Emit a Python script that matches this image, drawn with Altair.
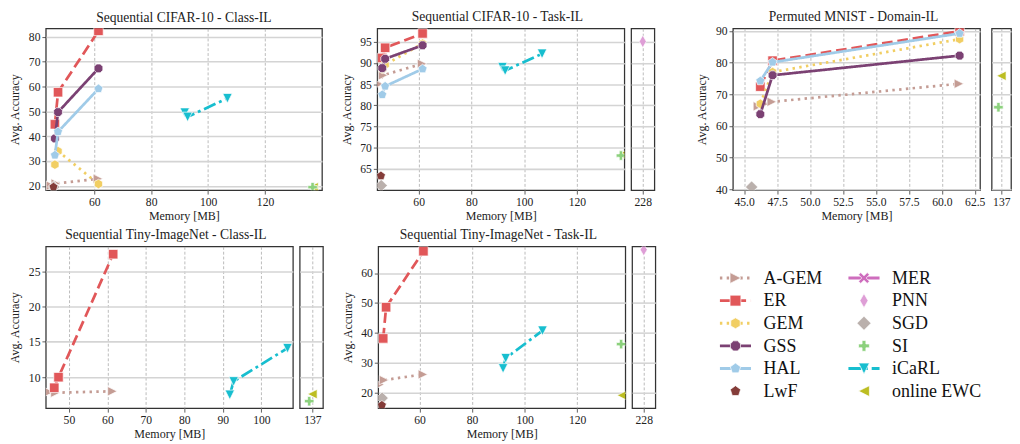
import altair as alt
import pandas as pd

FONT = "Liberation Serif"

METHODS = ["A-GEM", "ER", "GEM", "GSS", "HAL", "LwF",
           "MER", "PNN", "SGD", "SI", "iCaRL", "online EWC"]
COLORS = ["#c49c94", "#e15759", "#f1ce63", "#7b4173", "#a0cbe8", "#843c39",
          "#ce6dbd", "#de9ed6", "#bab0ac", "#8cd17d", "#17becf", "#bcbd22"]

TRI_R = "M1,0L-1,1L-1,-1Z"
TRI_L = "M-1,0L1,-1L1,1Z"
TRI_D = "M0,1L-1,-1L1,-1Z"
HEX = "M0,-1L0.866,-0.5L0.866,0.5L0,1L-0.866,0.5L-0.866,-0.5Z"
OCT = ("M0.383,-0.924L0.924,-0.383L0.924,0.383L0.383,0.924L-0.383,0.924"
       "L-0.924,0.383L-0.924,-0.383L-0.383,-0.924Z")
PENT = "M0,-1L0.951,-0.309L0.588,0.809L-0.588,0.809L-0.951,-0.309Z"
XMARK = ("M-1,-0.6L-0.6,-1L0,-0.4L0.6,-1L1,-0.6L0.4,0L1,0.6L0.6,1L0,0.4"
         "L-0.6,1L-1,0.6L-0.4,0Z")
THIN_D = "M0,-1.3L0.75,0L0,1.3L-0.75,0Z"
DIAM = "M0,-1.3L1.3,0L0,1.3L-1.3,0Z"
PLUS = ("M-0.35,-1L0.35,-1L0.35,-0.35L1,-0.35L1,0.35L0.35,0.35L0.35,1L-0.35,1"
        "L-0.35,0.35L-1,0.35L-1,-0.35L-0.35,-0.35Z")

SHAPES = [TRI_R, "square", HEX, OCT, PENT, PENT, XMARK, THIN_D, DIAM, PLUS, TRI_D, TRI_L]
DASHES = [[2.5, 4.5], [11, 5], [2.5, 4.5], [1, 0], [1, 0], [1, 0],
          [1, 0], [1, 0], [1, 0], [1, 0], [13, 4, 3, 4], [1, 0]]
HAS_LINE = [True, True, True, True, True, False, True, False, False, False, True, False]
DRAW_ORDER = ["A-GEM", "SGD", "LwF", "ER", "GEM", "GSS", "HAL", "MER", "PNN",
              "iCaRL", "online EWC", "SI"]

# memory footprints [MB]
MEM_REPLAY = [46.2, 47.3, 61.5]
MEM_AGEM = [44.8, 46.5, 61.3]
MEM_ICARL = [91.8, 92.8, 106.8]
MEM_MNIST_REPLAY = [46.23, 47.16, 61.35]
MEM_MNIST_AGEM = [46.05, 47.1, 61.3]
MEM_SGD = [45.8]
MEM_MNIST_SGD = [45.57]
MEM_LWF = [45.7]
MEM_SI = [136.7]
MEM_EWC = [137.0]
MEM_PNN = [228.0]

MEM_IMG = {"A-GEM": MEM_AGEM, "ER": MEM_REPLAY, "GEM": MEM_REPLAY, "GSS": MEM_REPLAY,
           "HAL": MEM_REPLAY, "LwF": MEM_LWF, "PNN": MEM_PNN, "SGD": MEM_SGD,
           "SI": MEM_SI, "iCaRL": MEM_ICARL, "online EWC": MEM_EWC}
MEM_MNIST = {"A-GEM": MEM_MNIST_AGEM, "ER": MEM_MNIST_REPLAY, "GEM": MEM_MNIST_REPLAY,
             "GSS": MEM_MNIST_REPLAY, "HAL": MEM_MNIST_REPLAY, "SGD": MEM_MNIST_SGD,
             "SI": MEM_SI, "online EWC": MEM_EWC}

# average accuracies
C10_CLASS = {"A-GEM": [20.1, 21.0, 22.9], "ER": [44.8, 57.7, 82.4], "GEM": [28.6, 34.0, 20.8],
             "GSS": [39.1, 49.7, 67.3], "HAL": [32.4, 41.8, 59.1], "LwF": [19.6],
             "SGD": [19.6], "SI": [19.5], "iCaRL": [49.5, 47.8, 55.3], "online EWC": [19.5]}
C10_TASK = {"A-GEM": [85.0, 87.1, 89.8], "ER": [91.2, 93.6, 97.0], "GEM": [88.6, 89.6, 94.6],
            "GSS": [88.8, 91.0, 94.2], "HAL": [82.5, 84.5, 88.6], "LwF": [63.3],
            "SGD": [61.0], "SI": [68.1], "iCaRL": [89.0, 88.2, 92.2], "online EWC": [68.3],
            "PNN": [95.1]}
MNIST_DOMAIN = {"A-GEM": [66.2, 67.6, 73.3], "ER": [72.4, 80.6, 89.9], "GEM": [67.0, 77.0, 87.4],
                "GSS": [63.7, 76.0, 82.2], "HAL": [74.2, 80.1, 89.2], "SGD": [40.7],
                "SI": [65.9], "online EWC": [75.8]}
TINY_CLASS = {"A-GEM": [7.9, 7.8, 8.0], "ER": [8.5, 10.0, 27.4], "SI": [6.6],
              "iCaRL": [7.5, 9.4, 14.1], "online EWC": [7.6]}
TINY_TASK = {"A-GEM": [22.8, 24.3, 26.2], "ER": [38.2, 48.6, 67.3], "LwF": [15.9],
             "SGD": [18.3], "SI": [36.3], "iCaRL": [28.2, 31.6, 40.8], "online EWC": [19.2],
             "PNN": [67.8]}

PH = 167
SIDE_W = 24
GAP = 17
NOFRAME = alt.ViewBackground(stroke="transparent")


def panel(acc, mem, xdom, ydom, xticks, yticks, width, main=True, xfmt="d"):
    if main:
        xax = alt.Axis(values=xticks, format=xfmt, title="Memory [MB]")
        yax = alt.Axis(values=yticks, title="Avg. Accuracy", minExtent=22, maxExtent=22)
    else:
        xax = alt.Axis(values=xticks, format=xfmt, title=None)
        yax = alt.Axis(values=yticks, title=None, labels=False, ticks=False,
                       minExtent=0, maxExtent=0)
    xe = alt.X("x:Q", scale=alt.Scale(domain=xdom, nice=False, zero=False), axis=xax)
    ye = alt.Y("y:Q", scale=alt.Scale(domain=ydom, nice=False, zero=False), axis=yax)
    layers = []
    for m in DRAW_ORDER:
        if m not in acc:
            continue
        i = METHODS.index(m)
        ys = acc[m]
        df = pd.DataFrame({"x": mem[m], "y": ys, "k": list(range(len(ys)))})
        if HAS_LINE[i] and len(ys) > 1:
            layers.append(alt.Chart(df).mark_line(
                color=COLORS[i], strokeWidth=2.8, strokeDash=DASHES[i], clip=True
            ).encode(x=xe, y=ye, order="k:Q"))
        layers.append(alt.Chart(df).mark_point(
            filled=True, shape=SHAPES[i], size=95, fill=COLORS[i], fillOpacity=1,
            stroke="white", strokeWidth=0.7, strokeOpacity=1, clip=True
        ).encode(x=xe, y=ye))
    return alt.layer(*layers).properties(width=width, height=PH)


p1 = panel(C10_CLASS, MEM_IMG, [43, 140], [18.3, 83.4], [60, 80, 100, 120],
           [20, 30, 40, 50, 60, 70, 80], 285).properties(title="Sequential CIFAR-10 - Class-IL")

C10T_Y = [59.9, 98.2]
C10T_YT = [65, 70, 75, 80, 85, 90, 95]
p2 = alt.hconcat(
    panel(C10_TASK, MEM_IMG, [44.3, 138], C10T_Y, [60, 80, 100, 120], C10T_YT, 255),
    panel(C10_TASK, MEM_IMG, [227, 229], C10T_Y, [228], C10T_YT, SIDE_W, main=False),
    spacing=5, title="Sequential CIFAR-10 - Task-IL")

MN_Y = [39.7, 90.8]
MN_YT = [40, 50, 60, 70, 80, 90]
p3 = alt.hconcat(
    panel(MNIST_DOMAIN, MEM_MNIST, [44.15, 62.9], MN_Y,
          [45, 47.5, 50, 52.5, 55, 57.5, 60, 62.5], MN_YT, 255, xfmt=".1f"),
    panel(MNIST_DOMAIN, MEM_MNIST, [136, 138], MN_Y, [137], MN_YT, 20, main=False),
    spacing=5, title=alt.TitleParams("Permuted MNIST - Domain-IL", dy=3.5))

TC_Y = [5.6, 28.5]
TC_YT = [10, 15, 20, 25]
p4 = alt.hconcat(
    panel(TINY_CLASS, MEM_IMG, [44, 108.2], TC_Y, [50, 60, 70, 80, 90, 100], TC_YT, 255),
    panel(TINY_CLASS, MEM_IMG, [135.8, 138.0], TC_Y, [137], TC_YT, SIDE_W, main=False),
    spacing=5, title="Sequential Tiny-ImageNet - Class-IL")

TT_Y = [14.9, 68.9]
TT_YT = [20, 30, 40, 50, 60]
p5 = alt.hconcat(
    panel(TINY_TASK, MEM_IMG, [44.3, 138.3], TT_Y, [60, 80, 100, 120], TT_YT, 255),
    panel(TINY_TASK, MEM_IMG, [227, 229], TT_Y, [228], TT_YT, SIDE_W, main=False),
    spacing=5, title="Sequential Tiny-ImageNet - Task-IL")

# blank gap between the CIFAR-10 Task-IL and MNIST panels
spacer = alt.Chart(pd.DataFrame({"v": [0]})).mark_point(opacity=0).encode(
    x=alt.X("v:Q", axis=None), y=alt.Y("v:Q", axis=None)
).properties(width=5, height=PH, view=NOFRAME, title=" ")

# legend
leg = pd.DataFrame({
    "method": METHODS,
    "col": [i // 6 for i in range(len(METHODS))],
    "row": [i % 6 for i in range(len(METHODS))],
    "line": HAS_LINE,
})
LEG_W = 320
lx = alt.Scale(domain=[-0.480, 1.933], nice=False, zero=False)
ly = alt.Scale(domain=[-1.397, 5.758], nice=False, zero=False, reverse=True)
cscale = alt.Scale(domain=METHODS, range=COLORS)
dscale = alt.Scale(domain=METHODS, range=DASHES)
sscale = alt.Scale(domain=METHODS, range=SHAPES)
lbase = alt.Chart(leg)
leg_rule = lbase.transform_filter(alt.datum.line).transform_calculate(
    x0="datum.col - 0.121", x1="datum.col + 0.121"
).mark_rule(strokeWidth=3).encode(
    x=alt.X("x0:Q", scale=lx, axis=None), x2="x1:Q",
    y=alt.Y("row:Q", scale=ly, axis=None),
    color=alt.Color("method:N", scale=cscale, legend=None),
    strokeDash=alt.StrokeDash("method:N", scale=dscale, legend=None),
)
leg_pt = lbase.mark_point(filled=True, size=125, opacity=1, stroke="white",
                          strokeWidth=0.7).encode(
    x=alt.X("col:Q", scale=lx, axis=None),
    y=alt.Y("row:Q", scale=ly, axis=None),
    fill=alt.Color("method:N", scale=cscale, legend=None),
    shape=alt.Shape("method:N", scale=sscale, legend=None),
)
leg_tx = lbase.mark_text(align="left", baseline="middle", dx=29, font=FONT,
                         fontSize=18.5, color="#111").encode(
    x=alt.X("col:Q", scale=lx, axis=None),
    y=alt.Y("row:Q", scale=ly, axis=None),
    text="method:N",
)
legend = alt.layer(leg_rule, leg_pt, leg_tx).properties(
    width=LEG_W, height=PH, view=NOFRAME, title=" ")

top = alt.hconcat(p1, p2, spacer, p3, spacing=GAP)
bottom = alt.hconcat(p4, p5, legend, spacing=GAP)

chart = alt.vconcat(top, bottom, spacing=5).properties(
    padding={"left": 0, "top": -5, "right": 0, "bottom": 0}
).configure_view(
    stroke="#333333", strokeWidth=1.3
).configure_axis(
    domain=False, labelFont=FONT, titleFont=FONT, labelFontSize=12, titleFontSize=12.4,
    titleFontWeight="normal", labelColor="#222222", titleColor="#222222",
    tickColor="#333333", tickSize=4, tickWidth=0.8, labelPadding=2, titlePadding=3,
).configure_axisX(
    gridDash=[3, 2], gridColor="#a8a8a8", gridWidth=0.8, labelPadding=2.5, titlePadding=2.5
).configure_axisY(
    gridColor="#d4d4d4", gridWidth=1.6
).configure_title(
    font=FONT, fontSize=14, fontWeight="normal", color="#222222", anchor="middle", offset=0
)

chart.save("out.html", embed_options={"renderer": "svg", "actions": False})
